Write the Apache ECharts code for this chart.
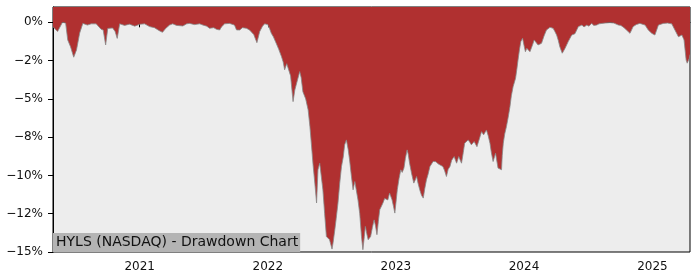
<!DOCTYPE html>
<html>
<head>
<meta charset="utf-8">
<script src="https://cdn.jsdelivr.net/npm/echarts@6/dist/echarts.min.js"></script>
<style>
html,body{margin:0;padding:0;background:#fff;}
#chart{width:700px;height:280px;}
</style>
</head>
<body>
<div id="chart"></div>
<script>
const chartTitle = 'HYLS (NASDAQ) - Drawdown Chart';
const dates = [
'2020-04-29','2020-05-12','2020-05-26','2020-06-04','2020-06-10','2020-06-18','2020-06-27','2020-07-05','2020-07-14','2020-07-23',
'2020-08-05','2020-08-16','2020-08-30','2020-09-13','2020-09-19','2020-09-26','2020-10-02','2020-10-16','2020-10-23','2020-10-29',
'2020-11-05','2020-11-19','2020-12-03','2020-12-18','2021-01-01','2021-01-15','2021-01-29','2021-02-12','2021-02-26','2021-03-07',
'2021-03-16','2021-03-27','2021-04-05','2021-04-16','2021-05-04','2021-05-15','2021-05-23','2021-06-06','2021-06-21','2021-06-30',
'2021-07-11','2021-07-19','2021-07-31','2021-08-08','2021-08-17','2021-08-22','2021-08-31','2021-09-14','2021-09-28','2021-10-04',
'2021-10-13','2021-10-21','2021-11-01','2021-11-10','2021-11-15','2021-11-22','2021-12-01','2021-12-09','2021-12-17','2021-12-23',
'2022-01-01','2022-01-06','2022-01-11','2022-01-17','2022-01-25','2022-02-01','2022-02-09','2022-02-14','2022-02-18','2022-02-24',
'2022-03-01','2022-03-07','2022-03-14','2022-03-19','2022-03-24','2022-04-02','2022-04-06','2022-04-11','2022-04-19','2022-04-26',
'2022-05-01','2022-05-05','2022-05-10','2022-05-15','2022-05-20','2022-05-24','2022-05-29','2022-06-01','2022-06-07','2022-06-12',
'2022-06-17','2022-06-22','2022-06-26','2022-07-03','2022-07-06','2022-07-11','2022-07-15','2022-07-20','2022-07-25','2022-07-30',
'2022-08-04','2022-08-08','2022-08-13','2022-08-18','2022-08-22','2022-08-27','2022-09-01','2022-09-06','2022-09-10','2022-09-15',
'2022-09-20','2022-09-25','2022-09-29','2022-10-03','2022-10-06','2022-10-10','2022-10-14','2022-10-21','2022-10-26','2022-10-31',
'2022-11-04','2022-11-08','2022-11-12','2022-11-16','2022-11-21','2022-11-25','2022-11-30','2022-12-05','2022-12-09','2022-12-14',
'2022-12-21','2022-12-25','2022-12-29','2023-01-02','2023-01-05','2023-01-10','2023-01-15','2023-01-19','2023-01-24','2023-01-28',
'2023-02-02','2023-02-05','2023-02-09','2023-02-15','2023-02-21','2023-02-25','2023-03-01','2023-03-05','2023-03-10','2023-03-15',
'2023-03-20','2023-03-24','2023-03-29','2023-04-03','2023-04-08','2023-04-12','2023-04-17','2023-04-25','2023-05-01','2023-05-06',
'2023-05-15','2023-05-20','2023-05-25','2023-05-30','2023-06-04','2023-06-09','2023-06-16','2023-06-23','2023-06-29','2023-07-07',
'2023-07-12','2023-07-16','2023-07-26','2023-07-31','2023-08-04','2023-08-12','2023-08-20','2023-08-27','2023-09-02','2023-09-08',
'2023-09-16','2023-09-21','2023-09-26','2023-09-30','2023-10-05','2023-10-12','2023-10-19','2023-10-24','2023-10-29','2023-10-31',
'2023-11-03','2023-11-07','2023-11-12','2023-11-17','2023-11-22','2023-11-26','2023-12-01','2023-12-08','2023-12-12','2023-12-15',
'2023-12-19','2023-12-23','2023-12-28','2024-01-01','2024-01-05','2024-01-09','2024-01-13','2024-01-18','2024-01-21','2024-01-25',
'2024-01-30','2024-02-01','2024-02-10','2024-02-20','2024-02-27','2024-03-05','2024-03-10','2024-03-15','2024-03-24','2024-03-29',
'2024-04-03','2024-04-08','2024-04-12','2024-04-19','2024-04-27','2024-05-06','2024-05-16','2024-05-25','2024-06-04','2024-06-14',
'2024-06-20','2024-06-28','2024-07-04','2024-07-12','2024-07-18','2024-07-26','2024-08-02','2024-08-10','2024-08-19','2024-09-02',
'2024-09-13','2024-09-26','2024-10-03','2024-10-12','2024-10-19','2024-10-29','2024-11-07','2024-11-16','2024-11-26','2024-12-11',
'2024-12-20','2024-12-30','2025-01-08','2025-01-18','2025-02-01','2025-02-13','2025-02-25','2025-03-06','2025-03-16','2025-03-26',
'2025-04-01','2025-04-07','2025-04-10','2025-04-16','2025-04-18'
];
const drawdown = [
-0.29,-0.6,0,-0.05,-1.15,-1.6,-2.28,-1.8,-0.7,-0.07,
-0.18,-0.1,-0.1,-0.45,-0.5,-1.48,-0.4,-0.37,-0.6,-1.05,
-0.1,-0.2,-0.12,-0.25,-0.13,-0.1,-0.28,-0.35,-0.55,-0.65,
-0.4,-0.18,-0.1,-0.2,-0.24,-0.1,-0.07,-0.15,-0.1,-0.18,
-0.25,-0.39,-0.35,-0.46,-0.5,-0.3,-0.1,-0.07,-0.18,-0.5,
-0.5,-0.35,-0.39,-0.5,-0.6,-0.8,-1.33,-0.6,-0.25,-0.1,
-0.15,-0.4,-0.72,-0.95,-1.37,-1.75,-2.24,-2.6,-3.1,-2.7,
-2.79,-3.5,-5.18,-4.42,-4.4,-3.22,-3.6,-4.53,-5.0,-5.72,
-6.8,-7.89,-9.3,-10.5,-11.8,-9.63,-9.2,-9.09,-10.94,-12.5,
-13.99,-14.0,-14.2,-14.81,-14.4,-13.55,-12.8,-11.8,-10.5,-9.42,
-8.8,-8.0,-7.68,-8.3,-8.98,-10.0,-10.94,-10.4,-10.4,-11.6,
-12.5,-13.99,-14.85,-14.0,-13.33,-13.8,-14.2,-13.99,-13.4,-12.9,
-13.3,-13.87,-13.0,-12.24,-12.0,-11.8,-11.5,-11.38,-11.6,-11.15,
-11.59,-12.0,-12.46,-11.6,-10.94,-10.2,-9.63,-9.8,-9.52,-8.9,
-8.33,-8.6,-9.2,-9.9,-10.5,-10.3,-10.07,-10.5,-10.94,-11.3,
-11.48,-10.9,-10.29,-9.9,-9.42,-9.3,-9.09,-9.1,-9.24,-9.3,
-9.42,-9.7,-10.07,-9.6,-9.42,-9.0,-8.77,-9.2,-8.77,-9.2,
-8.5,-7.89,-7.68,-7.85,-8.0,-7.79,-8.12,-7.6,-7.14,-7.35,
-7.03,-7.4,-7.89,-8.5,-9.09,-8.55,-9.52,-9.5,-9.63,-8.7,
-7.89,-7.3,-6.81,-6.2,-5.51,-4.8,-4.2,-3.65,-3.0,-2.46,
-1.8,-1.26,-1.04,-1.5,-1.92,-1.7,-1.59,-1.92,-1.9,-1.5,
-1.15,-1.26,-1.48,-1.37,-0.9,-0.5,-0.55,-0.33,-0.39,-0.6,
-0.83,-1.2,-1.59,-2.02,-1.7,-1.26,-0.83,-0.75,-0.28,-0.18,
-0.3,-0.18,-0.25,-0.07,-0.2,-0.18,-0.1,-0.07,-0.05,-0.02,
-0.05,-0.18,-0.2,-0.35,-0.5,-0.72,-0.28,-0.15,-0.07,-0.18,
-0.5,-0.72,-0.83,-0.18,-0.07,-0.05,-0.1,-0.5,-0.94,-0.83,
-1.15,-2.46,-2.67,-2.35,-2.1
];
const xStart = '2020-04-29';
const xEnd = '2025-04-18';
const xTickLabels = ['2021','2022','2023','2024','2025'];
const yTickValues = [0,-2.5,-5,-7.5,-10,-12.5,-15];
const yTickLabels = ['0%','\u22122%','\u22125%','\u22128%','\u221210%','\u221212%','\u221215%'];
const yMin = -15, yMax = 1.0;

const toTs = d => new Date(d + 'T00:00:00').getTime();
const xTickValues = xTickLabels.map(y => toTs(y + '-01-01'));
const seriesData = dates.map((d, i) => [toTs(d), drawdown[i]]);
const font = 'DejaVu Sans';

const chart = echarts.init(document.getElementById('chart'), null, {renderer: 'canvas'});
chart.setOption({
  animation: false,
  backgroundColor: '#ffffff',
  title: {
    text: chartTitle,
    left: 53, bottom: 28,
    backgroundColor: '#b4b4b4',
    padding: [2, 2, 2, 3],
    itemGap: 0,
    textStyle: {fontFamily: font, fontSize: 14, fontWeight: 'normal', color: '#111', lineHeight: 15}
  },
  grid: {left: 53, right: 10, top: 7, bottom: 28, show: true, backgroundColor: '#ededed', borderColor: '#000', borderWidth: 1},
  xAxis: {
    type: 'value', min: toTs(xStart), max: toTs(xEnd),
    axisLine: {show: true, lineStyle: {color: '#000', width: 1}},
    axisTick: {show: true, length: 5, lineStyle: {color: '#000'}, customValues: xTickValues},
    axisLabel: {
      customValues: xTickValues, margin: 9, color: '#111', fontFamily: font, fontSize: 12,
      formatter: v => { const i = xTickValues.indexOf(v); return i >= 0 ? xTickLabels[i] : ''; }
    },
    splitLine: {show: false}
  },
  yAxis: {
    type: 'value', min: yMin, max: yMax,
    axisLine: {show: true, lineStyle: {color: '#000', width: 1}},
    axisTick: {show: true, length: 5, lineStyle: {color: '#000'}, customValues: yTickValues},
    axisLabel: {
      customValues: yTickValues, margin: 10, color: '#111', fontFamily: font, fontSize: 12,
      formatter: v => { const i = yTickValues.findIndex(t => Math.abs(t - v) < 1e-9); return i >= 0 ? yTickLabels[i] : ''; }
    },
    splitLine: {show: false}
  },
  series: [{
    type: 'line',
    data: seriesData,
    showSymbol: false,
    symbol: 'none',
    lineStyle: {color: '#888888', width: 0.8},
    areaStyle: {color: '#b03030', opacity: 1, origin: 'end'},
    z: 2
  }]
});
</script>
</body>
</html>
